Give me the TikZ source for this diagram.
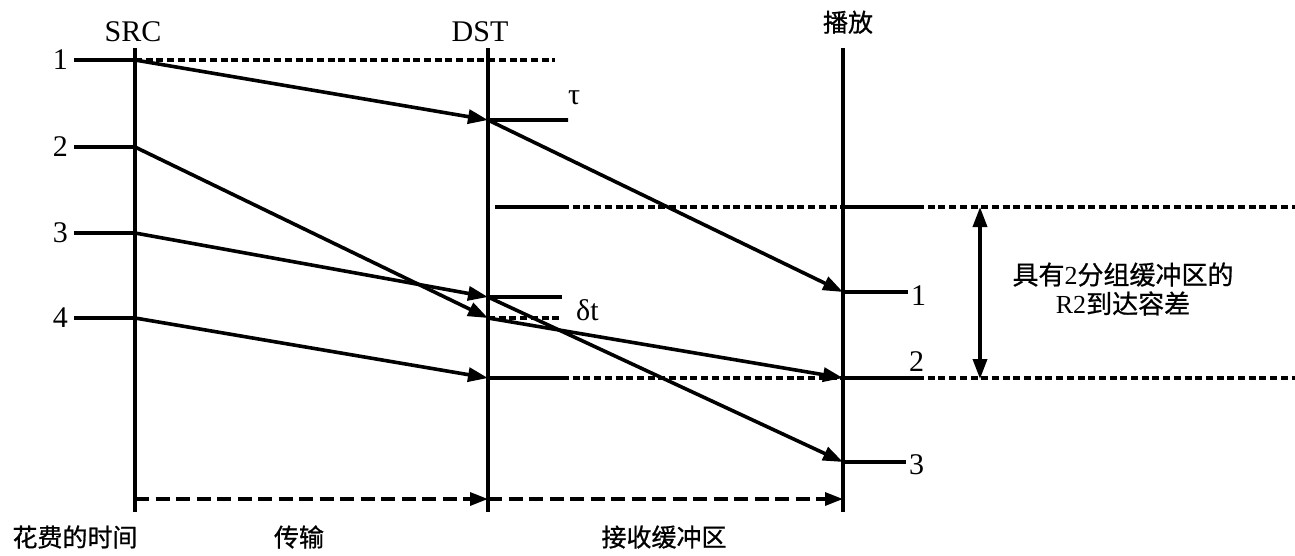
\documentclass[tikz,border=0pt]{standalone}
\usepackage{fontspec}
\setmainfont{Liberation Serif}
\newfontfamily\cjk[FakeBold=0.8]{Noto Sans CJK SC}
\usetikzlibrary{
	positioning,						% Relative placement of the labels
	arrows.meta,						% Triangle arrow tips
	calc								% Coordinate arithmetic
}

\begin{document}
\begin{tikzpicture}[x=1pt, y=-1pt]
		\tikzstyle{axis} = [line width=3.6pt]
		\tikzstyle{pkt} = [line width=3.6pt, -{Triangle[length=20pt, width=14pt]}]
		\tikzstyle{tick} = [line width=3.6pt]
		\tikzstyle{level} = [line width=3.2pt, dash pattern=on 7pt off 3.7pt]
		\tikzstyle{span} = [line width=3.2pt, dash pattern=on 14pt off 6.5pt, -{Triangle[length=18pt, width=13pt]}]
		\tikzstyle{lbl} = [font=\fontsize{30}{32}\selectfont, inner sep=0pt]
		\tikzstyle{cjklbl} = [font=\cjk\fontsize{25}{30}\selectfont, inner sep=0pt]
		
		\useasboundingbox (0,0) rectangle (1295,555);
		
		% Time axes
		\foreach \name/\x in {src/135, dst/488, play/843}{
			\coordinate (\name Top) at (\x, 48);
			\coordinate (\name Bot) at (\x, 512);
			\coordinate (\name Span) at (\x, 499);
			\draw[axis] (\name Top) -- (\name Bot);
		}
		\node[lbl, above=6pt of srcTop, xshift=-2pt] (srcLabel) {SRC};
		\node[lbl, above=6pt of dstTop, xshift=-8pt] (dstLabel) {DST};
		\node[cjklbl, above=14pt of playTop, xshift=5pt] (playLabel) {播放};
		
		% Sending side
		\foreach \idx/\y in {1/60, 2/147, 3/233, 4/318}{
			\coordinate (srcPkt\idx) at (135, \y);
			\node[lbl, anchor=east] at (68, \y) (srcNum\idx) {\idx};
			\draw[tick] ([xshift=6pt]srcNum\idx.east) -- (srcPkt\idx);
		}
		
		% Arrivals and playout
		\coordinate (dstPkt1) at (488, 120);
		\coordinate (dstPkt3) at (488, 297);
		\coordinate (dstPkt2) at (488, 318);
		\coordinate (dstPkt4) at (488, 378);
		\coordinate (playPkt1) at (843, 292);
		\coordinate (playPkt2) at (843, 378);
		\coordinate (playPkt3) at (843, 462);
		
		%% Transmission
		\foreach \idx in {1, ..., 4}{
			\draw[pkt] (srcPkt\idx) -- (dstPkt\idx);
		}
		%% Buffering
		\foreach \idx in {1, ..., 3}{
			\draw[pkt] (dstPkt\idx) -- (playPkt\idx);
		}
		
		% Marks at DST
		\coordinate (rowOneEnd) at (555, 60);
		\draw[level] (srcPkt1) -- (rowOneEnd);
		\node[lbl, anchor=west] at (568, 98) (tauLabel) {τ};
		\draw[tick] (dstPkt1) -- (tauLabel.west |- dstPkt1) -- ++(-5,0);
		\node[lbl, anchor=west] at (576, 310) (deltaLabel) {δt};
		\draw[tick] (dstPkt3) -- (562, 297);
		\draw[level] (dstPkt2) -- (562, 318);
		
		% Tolerance levels
		\foreach \y/\lvl/\x in {207/Top/495, 378/Bot/488}{
			\coordinate (lvl\lvl A) at (\x, \y);
			\coordinate (lvl\lvl B) at (562, \y);
			\coordinate (lvl\lvl C) at (843, \y);
			\coordinate (lvl\lvl D) at (917, \y);
			\coordinate (lvl\lvl E) at (1295, \y);
			\draw[tick] (lvl\lvl A) -- (lvl\lvl B);
			\draw[level] (lvl\lvl B) -- (lvl\lvl C);
			\draw[tick] (lvl\lvl C) -- (lvl\lvl D);
			\draw[level] (lvl\lvl D) -- (lvl\lvl E);
		}
		
		% Playout marks
		\node[lbl, anchor=west] at (911, 296) (playNum1) {1};
		\draw[tick] (playPkt1) -- ([xshift=-3pt]playNum1.west |- playPkt1);
		\node[lbl, anchor=west] at (909, 362) (playNum2) {2};
		\node[lbl, anchor=west] at (909, 465) (playNum3) {3};
		\draw[tick] (playPkt3) -- ([xshift=-3pt]playNum3.west |- playPkt3);
		
		% Arrival tolerance
		\coordinate (tolTop) at (980, 207);
		\coordinate (tolBot) at (980, 379);
		\draw[line width=3.6pt, {Triangle[length=20pt, width=14pt]}-{Triangle[length=20pt, width=14pt]}] (tolTop) -- (tolBot);
		\node[align=center, inner sep=0pt, font=\fontsize{26}{29}\selectfont] at (1123, 289) (tolLabel)
			{{\cjk 具有}2{\cjk 分组缓冲区的}\\R2{\cjk 到达容差}};
		
		% Time spent
		\draw[span] (srcSpan) -- (dstSpan);
		\draw[span] (dstSpan) -- (playSpan);
		\node[cjklbl] at (75, 537) (spentLabel) {花费的时间};
		\node[cjklbl] at (299, 537) (transLabel) {传输};
		\node[cjklbl] at (664, 537) (bufLabel) {接收缓冲区};
	\end{tikzpicture}
\end{document}
